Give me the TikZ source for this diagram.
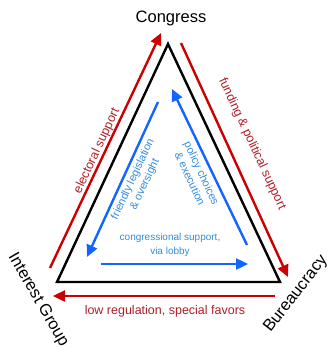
\documentclass[tikz,border=0pt]{standalone}
\usepackage{fontspec}
\setmainfont{Liberation Sans}
\usetikzlibrary{arrows.meta}
\definecolor{linkred}{RGB}{204,0,0}
\definecolor{textred}{RGB}{175,30,40}
\definecolor{linkblue}{RGB}{20,100,255}
\definecolor{textblue}{RGB}{50,140,220}

\begin{document}
\begin{tikzpicture}[x=1pt,y=-1pt,
	redarrow/.style={draw=linkred,line width=2.4pt,-{Triangle[length=12pt,width=11pt]}},
	bluearrow/.style={draw=linkblue,line width=2.4pt,-{Triangle[length=12pt,width=11pt]}},
	corner/.style={font=\fontsize{16.5}{18}\selectfont,inner sep=1pt},
	redlabel/.style={text=textred,font=\fontsize{12.5}{14}\selectfont,inner sep=1pt},
	bluelabel/.style={text=textblue,font=\fontsize{11}{13}\selectfont,align=center,inner sep=1pt}]
		\useasboundingbox (0,0) rectangle (329,359);
		% the iron triangle
		\coordinate (cg) at (168,44);
		\coordinate (ig) at (57,282);
		\coordinate (bu) at (280,282);
		\draw[black,line width=2.4pt] (ig) -- (cg) -- (bu) -- cycle;
		\node[corner] (congress) at (171,18) {Congress};
		\node[corner,rotate=-60] (interest) at (38,300) {Interest Group};
		\node[corner,rotate=52] (bureau) at (296,294) {Bureaucracy};
		% outer red links
		\coordinate (elA) at (50,268);
		\coordinate (elB) at (161,33);
		\coordinate (fuA) at (181,43);
		\coordinate (fuB) at (288,277);
		\coordinate (loA) at (275,296);
		\coordinate (loB) at (53,296);
		\draw[redarrow] (elA) -- (elB);
		\draw[redarrow] (fuA) -- (fuB);
		\draw[redarrow] (loA) -- (loB);
		\node[redlabel,rotate=65] (electoral) at (97,151) {electoral support};
		\node[redlabel,rotate=-65] (funding) at (252,144) {funding \& political support};
		\node[redlabel] (lowreg) at (165,311) {low regulation, special favors};
		% inner blue links
		\coordinate (frA) at (158,102);
		\coordinate (frB) at (87,257);
		\coordinate (poA) at (247,245);
		\coordinate (poB) at (172,89);
		\coordinate (coA) at (101,264);
		\coordinate (coB) at (248,264);
		\draw[bluearrow] (frA) -- (frB);
		\draw[bluearrow] (poA) -- (poB);
		\draw[bluearrow] (coA) -- (coB);
		\node[bluelabel,rotate=65] (friendly) at (139,182) {friendly legislation\\ \& oversight};
		\node[bluelabel,rotate=-65] (policy) at (196,176) {policy choices\\ \& execution};
		\node[bluelabel,font=\fontsize{10}{14}\selectfont] (lobby) at (170,245) {congressional support,\\ via lobby};
	\end{tikzpicture}
\end{document}
